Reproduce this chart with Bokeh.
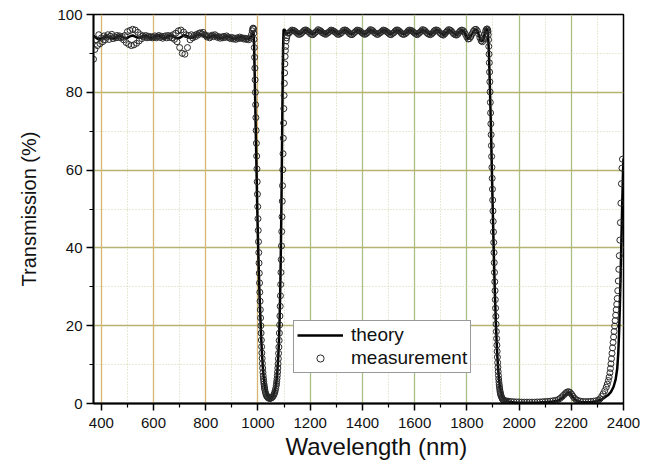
from bokeh.plotting import figure
from bokeh.models import FixedTicker, Legend, LegendItem, Grid, Title
from bokeh.embed import file_html
from bokeh.resources import INLINE

# ---------------- data ----------------
x_major = [400, 600, 800, 1000, 1200, 1400, 1600, 1800, 2000, 2200, 2400]
x_minor = [500, 700, 900, 1100, 1300, 1500, 1700, 1900, 2100, 2300]
y_major = [0, 20, 40, 60, 80, 100]
y_minor = [10, 30, 50, 70, 90]

# theory curve
theory_wl = [370, 380, 390, 400, 410, 420, 430, 440, 450, 460, 470, 480, 490, 500, 510, 520, 530, 540, 550, 560,
             570, 580, 590, 600, 610, 620, 630, 640, 650, 660, 670, 680, 690, 700, 710, 720, 730, 740, 750, 760,
             770, 780, 790, 800, 810, 820, 830, 840, 850, 860, 870, 880, 890, 900, 910, 920, 930, 940, 950, 960,
             970, 975, 980,
             983, 985, 987, 989, 991, 993, 995, 997, 999, 1001, 1003, 1005, 1007, 1009, 1011, 1013, 1015, 1018,
             1021, 1024, 1027, 1031, 1036, 1041, 1046, 1051, 1056, 1061, 1065, 1069, 1072, 1075, 1078, 1080, 1082,
             1084, 1086, 1088, 1090, 1092, 1094, 1096, 1098, 1101, 1105, 1110,
             1120, 1130, 1140, 1150, 1160, 1170, 1180, 1190, 1200, 1210, 1220, 1230, 1240, 1250, 1260, 1270, 1280,
             1290, 1300, 1310, 1320, 1330, 1340, 1350, 1360, 1370, 1380, 1390, 1400, 1410, 1420, 1430, 1440, 1450,
             1460, 1470, 1480, 1490, 1500, 1510, 1520, 1530, 1540, 1550, 1560, 1570, 1580, 1590, 1600, 1610, 1620,
             1630, 1640, 1650, 1660, 1670, 1680, 1690, 1700, 1710, 1720, 1730, 1740, 1750, 1760, 1770, 1780, 1790,
             1800, 1805, 1810, 1820, 1830, 1838, 1845, 1852, 1858, 1864, 1869, 1874, 1878,
             1881, 1884, 1887, 1890, 1893, 1896, 1899, 1902, 1905, 1908, 1911, 1914, 1917, 1920, 1923, 1926, 1929,
             1933, 1938, 1944, 1950, 1960, 1975, 1990, 2010, 2030, 2050, 2070, 2090, 2110, 2130, 2145, 2155, 2165,
             2175, 2183, 2190, 2197, 2205, 2213, 2222, 2235, 2250, 2265, 2280, 2295, 2310, 2325, 2340, 2352, 2362,
             2370, 2376, 2380, 2383, 2386, 2389, 2392, 2395, 2398, 2400]
theory_val = [94.5, 94.0, 93.6, 93.8, 94.2, 94.4, 94.1, 93.8, 93.9, 94.3, 94.5, 94.2, 93.9, 94.0, 94.4, 94.6, 94.3, 94.0, 94.1, 94.4,
              94.6, 94.3, 94.0, 94.1, 94.5, 94.6, 94.2, 93.9, 94.1, 94.5, 94.6, 94.2, 93.9, 94.0, 94.4, 94.7, 94.4, 94.0, 94.1, 94.5,
              94.8, 94.9, 94.6, 94.3, 94.1, 94.3, 94.6, 94.5, 94.1, 93.9, 94.1, 94.4, 94.3, 93.9, 93.7, 93.9, 94.2, 94.1, 93.8, 93.7,
              94.0, 94.6, 95.3,
              95.4, 92.5, 86.0, 79.0, 72.0, 65.0, 58.0, 51.0, 45.0, 39.5, 34.5, 30.0, 26.0, 22.5, 19.0, 16.0, 13.3, 10.0,
              7.4, 5.5, 4.1, 2.9, 2.0, 1.5, 1.3, 1.4, 1.8, 2.5, 3.4, 4.8, 6.5, 9.0, 12.5, 15.5, 19.5,
              25.0, 32.0, 41.0, 52.0, 65.0, 79.0, 91.0, 96.0, 96.2, 95.5, 95.0,
              95.4, 96.0, 95.8, 95.2, 94.9, 95.4, 96.0, 95.8, 95.2, 94.9, 95.4, 96.0, 95.8, 95.2, 94.9, 95.4, 96.0,
              95.8, 95.2, 94.9, 95.4, 96.0, 95.8, 95.2, 94.9, 95.4, 96.0, 95.8, 95.2, 94.9, 95.4, 96.0, 95.8, 95.2,
              94.9, 95.4, 96.0, 95.8, 95.2, 94.9, 95.4, 96.0, 95.8, 95.2, 94.9, 95.4, 96.0, 95.8, 95.2, 94.9, 95.4,
              96.0, 95.8, 95.2, 94.8, 95.3, 96.0, 95.9, 95.2, 94.7, 95.2, 96.0, 95.8, 95.1, 94.7, 95.4, 96.0, 95.5,
              94.2, 93.7, 93.9, 95.0, 96.1, 96.0, 94.9, 93.4, 93.0, 93.8, 95.3, 96.3, 96.2,
              94.8, 91.0, 84.5, 77.0, 68.5, 59.5, 50.5, 42.0, 34.0, 27.0, 21.0, 16.0, 12.0, 8.8, 6.4, 4.6, 3.4,
              2.3, 1.5, 0.9, 0.6, 0.4, 0.3, 0.2, 0.2, 0.2, 0.2, 0.2, 0.3, 0.4, 0.5, 0.7, 0.9, 1.4,
              2.0, 2.6, 2.9, 2.6, 1.8, 1.1, 0.7, 0.4, 0.3, 0.3, 0.4, 0.6, 0.9, 1.4, 2.1, 3.0, 4.3,
              6.2, 9.0, 13.0, 18.0, 25.0, 33.0, 42.0, 51.0, 59.0, 63.0]

# measurement: first pass band (370 - 980 nm)
meas_band1_wl = [370, 375, 380, 385, 390, 395, 400, 405, 410, 415, 420, 425, 430, 435, 440, 445, 450, 455, 460, 465,
                 470, 475, 480, 485, 490, 495, 500, 505, 510, 515, 520, 525, 530, 535, 540, 545, 550, 555, 560, 565,
                 570, 575, 580, 585, 590, 595, 600, 605, 610, 615, 620, 625, 630, 635, 640, 645, 650, 655, 660, 665,
                 670, 675, 680, 685, 690, 695, 700, 705, 710, 715, 720, 725, 730, 735, 740, 745, 750, 755, 760, 765,
                 770, 775, 780, 785, 790, 795, 800, 805, 810, 815, 820, 825, 830, 835, 840, 845, 850, 855, 860, 865,
                 870, 875, 880, 885, 890, 895, 900, 905, 910, 915, 920, 925, 930, 935, 940, 945, 950, 955, 960, 965,
                 970, 975, 978, 980]
meas_band1_val = [88.5, 91.0, 93.5, 92.0, 94.8, 92.5, 94.0, 93.0, 94.5, 93.5, 94.2, 94.8, 93.6, 94.4, 94.9, 93.8, 94.3, 94.0, 94.6, 94.1,
                  94.5, 94.0, 94.3, 93.5, 94.6, 92.8, 95.6, 92.3, 95.9, 92.0, 96.2, 92.2, 96.0, 92.6, 95.4, 93.2, 94.8, 93.8, 94.5, 94.2,
                  94.6, 94.0, 94.4, 94.1, 94.3, 94.0, 94.2, 94.5, 94.0, 94.3, 94.6, 94.1, 94.4, 93.9, 94.3, 94.5, 94.0, 94.6, 94.1, 94.5,
                  94.0, 94.8, 93.6, 95.2, 93.0, 95.8, 91.5, 96.0, 90.0, 95.5, 89.8, 94.8, 91.5, 94.6, 93.5, 94.8, 94.0, 94.6, 94.3, 94.9,
                  94.7, 95.2, 95.3, 95.0, 95.4, 94.8, 94.6, 94.2, 94.5, 94.0, 94.4, 94.7, 94.3, 94.8, 94.5, 94.1, 94.3, 93.9, 94.2, 94.0,
                  94.4, 94.1, 94.5, 94.2, 94.0, 93.8, 94.1, 93.7, 93.9, 93.6, 94.0, 93.8, 94.2, 93.9, 94.0, 93.7, 93.9, 93.6, 93.8, 93.5,
                  94.0, 94.8, 95.8, 96.4]

# measurement: first stop band (982 - 1115 nm)
meas_dip1_wl = [982, 983, 984, 985, 986, 987, 988, 989, 990, 991, 992, 993, 994, 995, 996, 997, 998, 999, 1000, 1001,
                1002, 1003, 1004, 1005, 1006, 1007, 1008, 1009, 1010, 1011, 1012, 1013, 1014, 1015, 1016, 1017, 1018,
                1019, 1020, 1021, 1022, 1023, 1024, 1025, 1026, 1028, 1030, 1032, 1034, 1036, 1038, 1041, 1044, 1047,
                1050, 1053, 1056, 1059, 1062, 1064, 1066, 1068, 1070, 1071, 1072, 1073, 1074, 1075, 1076, 1077, 1078,
                1079, 1080, 1081, 1082, 1083, 1084, 1085, 1086, 1087, 1088, 1089, 1090, 1091, 1092, 1093, 1094, 1095,
                1096, 1097, 1098, 1099, 1100, 1101, 1102, 1103, 1104, 1105, 1106, 1108, 1110, 1112, 1115]
meas_dip1_val = [96.5, 96.2, 95.2, 93.6, 91.5, 89.0, 86.2, 83.2, 80.0, 76.8, 73.5, 70.2, 66.9, 63.6, 60.3, 57.0, 53.8, 50.6, 47.5, 44.5,
                 41.6, 38.8, 36.1, 33.5, 31.0, 28.6, 26.3, 24.1, 22.0, 20.0, 18.1, 16.3, 14.6, 13.0, 11.6, 10.3, 9.1,
                 8.0, 7.1, 6.3, 5.6, 5.0, 4.5, 4.0, 3.6, 3.0, 2.5, 2.1, 1.9, 1.7, 1.5, 1.4, 1.3, 1.3,
                 1.4, 1.5, 1.7, 2.0, 2.4, 2.8, 3.3, 3.9, 4.6, 5.1, 5.7, 6.4, 7.2, 8.1, 9.1, 10.2, 11.5,
                 12.9, 14.5, 16.2, 18.1, 20.2, 22.5, 25.0, 27.7, 30.6, 33.7, 37.0, 40.5, 44.2, 48.0, 52.0, 56.0, 60.1,
                 64.2, 68.2, 72.1, 75.8, 79.2, 82.3, 85.0, 87.3, 89.2, 90.7, 91.8, 93.2, 94.0, 94.6, 95.2]

# measurement: second pass band (1120 - 1878 nm)
meas_band2_wl = [1120, 1125, 1130, 1135, 1140, 1145, 1150, 1155, 1160, 1165,
                 1170, 1175, 1180, 1185, 1190, 1195, 1200, 1205, 1210, 1215,
                 1220, 1225, 1230, 1235, 1240, 1245, 1250, 1255, 1260, 1265,
                 1270, 1275, 1280, 1285, 1290, 1295, 1300, 1305, 1310, 1315,
                 1320, 1325, 1330, 1335, 1340, 1345, 1350, 1355, 1360, 1365,
                 1370, 1375, 1380, 1385, 1390, 1395, 1400, 1405, 1410, 1415,
                 1420, 1425, 1430, 1435, 1440, 1445, 1450, 1455, 1460, 1465,
                 1470, 1475, 1480, 1485, 1490, 1495, 1500, 1505, 1510, 1515,
                 1520, 1525, 1530, 1535, 1540, 1545, 1550, 1555, 1560, 1565,
                 1570, 1575, 1580, 1585, 1590, 1595, 1600, 1605, 1610, 1615,
                 1620, 1625, 1630, 1635, 1640, 1645, 1650, 1655, 1660, 1665,
                 1670, 1675, 1680, 1685, 1690, 1695, 1700, 1705, 1710, 1715,
                 1720, 1725, 1730, 1735, 1740, 1745, 1750, 1755,
                 1760, 1765, 1770, 1775, 1780, 1785, 1790, 1795, 1800, 1805, 1810, 1815, 1820, 1825, 1830, 1835,
                 1840, 1845, 1850, 1855, 1860, 1865, 1869, 1872, 1875, 1878]
meas_band2_val = [95.3, 95.7, 96.0, 95.9, 95.8, 95.5, 95.2, 94.9, 94.9, 95.1,
                  95.4, 95.8, 96.0, 96.0, 95.7, 95.5, 95.1, 94.9, 94.8, 95.1,
                  95.4, 95.7, 96.1, 95.9, 95.8, 95.4, 95.2, 95.0, 94.9, 95.2,
                  95.4, 95.7, 96.0, 95.9, 95.7, 95.5, 95.2, 94.9, 94.9, 95.1,
                  95.3, 95.8, 96.0, 96.0, 95.8, 95.5, 95.1, 94.9, 94.8, 95.1,
                  95.4, 95.7, 96.0, 95.9, 95.8, 95.5, 95.2, 95.0, 94.9, 95.1,
                  95.4, 95.7, 96.1, 96.0, 95.8, 95.4, 95.2, 94.9, 94.9, 95.2,
                  95.4, 95.7, 96.0, 95.9, 95.7, 95.5, 95.2, 94.9, 94.8, 95.1,
                  95.3, 95.7, 96.0, 96.0, 95.8, 95.5, 95.1, 94.9, 94.9, 95.1,
                  95.4, 95.8, 96.0, 95.9, 95.8, 95.5, 95.2, 95.0, 94.8, 95.1,
                  95.4, 95.7, 96.1, 96.0, 95.8, 95.4, 95.1, 94.9, 94.8, 95.0,
                  95.3, 95.8, 96.0, 96.0, 95.8, 95.4, 95.1, 94.8, 94.7, 95.0,
                  95.4, 95.8, 96.1, 96.0, 95.8, 95.4, 95.0, 94.8,
                  94.7, 94.9, 95.4, 95.8, 96.0, 95.9, 95.5, 94.9, 94.2, 93.7, 93.8, 94.3, 95.0, 95.7, 96.1, 96.2,
                  95.8, 95.0, 94.0, 93.2, 93.0, 93.7, 94.9, 95.8, 96.2, 96.3]

# measurement: second edge and stop band (1880 - 2396 nm)
meas_dip2_wl = [1880, 1881, 1882, 1883, 1884, 1885, 1886, 1887, 1888, 1889, 1890, 1891, 1892, 1893, 1894, 1895, 1896,
                1897, 1898, 1899, 1900, 1901, 1902, 1903, 1904, 1905, 1906, 1907, 1908, 1909, 1910, 1911, 1912, 1913,
                1914, 1915, 1916, 1917, 1918, 1919, 1920, 1921, 1922, 1923, 1924, 1925, 1926, 1927, 1928, 1929, 1930,
                1932, 1934, 1936, 1938, 1940, 1943, 1946, 1950, 1955, 1960, 1970, 1980, 1990, 2000, 2010, 2020, 2030,
                2040, 2050, 2060, 2070, 2080, 2090, 2100, 2110, 2120, 2130, 2140, 2150, 2157, 2164, 2170, 2176, 2181,
                2186, 2191, 2196, 2201, 2206, 2212, 2218, 2225, 2235, 2245, 2255, 2265, 2275, 2285, 2295, 2305,
                2310, 2316, 2322, 2328, 2334, 2338, 2342, 2345, 2348, 2350, 2352, 2354, 2356, 2358, 2360, 2362, 2364,
                2366, 2368, 2370, 2372, 2374, 2376, 2378, 2380, 2382, 2384, 2386, 2388, 2390, 2392, 2394, 2396]
meas_dip2_val = [96.0, 95.6, 94.8, 93.5, 91.8, 89.8, 87.6, 85.2, 82.7, 80.1, 77.4, 74.7, 71.9, 69.1, 66.3, 63.5, 60.7,
                 57.9, 55.1, 52.3, 49.5, 46.8, 44.1, 41.4, 38.8, 36.2, 33.7, 31.3, 29.0, 26.7, 24.5, 22.4, 20.4, 18.5,
                 16.7, 15.0, 13.4, 11.9, 10.5, 9.3, 8.2, 7.2, 6.3, 5.5, 4.8, 4.2, 3.7, 3.2, 2.8, 2.5, 2.2,
                 1.8, 1.5, 1.2, 1.0, 0.9, 0.8, 0.7, 0.6, 0.6, 0.55, 0.5, 0.45, 0.4, 0.4, 0.35, 0.35, 0.35,
                 0.35, 0.35, 0.35, 0.4, 0.4, 0.45, 0.5, 0.55, 0.6, 0.7, 0.8, 1.0, 1.3, 1.7, 2.1, 2.5, 2.8,
                 3.0, 3.0, 2.8, 2.4, 1.9, 1.4, 1.0, 0.8, 0.6, 0.5, 0.5, 0.5, 0.55, 0.6, 0.7, 0.9,
                 1.2, 1.8, 2.5, 3.3, 4.2, 5.0, 5.9, 6.8, 7.9, 9.0, 10.2, 11.5, 12.9, 14.3, 15.7, 17.1, 18.5,
                 19.9, 21.3, 22.7, 24.1, 25.5, 27.0, 29.0, 31.5, 34.5, 38.0, 42.0, 46.5, 51.5, 56.5, 60.5, 62.8]

meas_wl = meas_band1_wl + meas_dip1_wl + meas_band2_wl + meas_dip2_wl
meas_val = meas_band1_val + meas_dip1_val + meas_band2_val + meas_dip2_val

# ---------------- figure ----------------
FONT = "Liberation Sans"
p = figure(width=648, height=464, x_range=(370, 2400), y_range=(0, 100),
           output_backend="svg", toolbar_location=None,
           min_border_left=93, min_border_right=25, min_border_top=14, min_border_bottom=61)
p.background_fill_color = "white"
p.border_fill_color = "white"
p.outline_line_color = "black"
p.outline_line_width = 1.5

xt = FixedTicker(ticks=x_major, minor_ticks=x_minor)
yt = FixedTicker(ticks=y_major, minor_ticks=y_minor)
p.xaxis.ticker = xt
p.yaxis.ticker = yt

# grids
p.xgrid.ticker = FixedTicker(ticks=[1200, 1400, 1600, 1800, 2000, 2200], minor_ticks=x_minor)
p.xgrid.grid_line_color = "#a9bf84"
p.xgrid.grid_line_width = 1.3
p.xgrid.minor_grid_line_color = "#d2d4a8"
p.xgrid.minor_grid_line_dash = "1 2"
p.xgrid.minor_grid_line_width = 1
g_orange = Grid(dimension=0, ticker=FixedTicker(ticks=[400, 600, 800, 1000]),
                grid_line_color="#d6b670", grid_line_width=1.3)
p.add_layout(g_orange)
p.ygrid.ticker = yt
p.ygrid.grid_line_color = "#b6b272"
p.ygrid.grid_line_width = 1.3
p.ygrid.minor_grid_line_color = "#d2d4a8"
p.ygrid.minor_grid_line_dash = "1 2"
p.ygrid.minor_grid_line_width = 1

# axes
for ax in (p.xaxis[0], p.yaxis[0]):
    ax.axis_line_color = "black"
    ax.axis_line_width = 1.8
    ax.major_tick_line_color = "black"
    ax.major_tick_line_width = 1.5
    ax.minor_tick_line_color = "black"
    ax.minor_tick_line_width = 1.2
    ax.major_tick_in = 0
    ax.major_tick_out = 7
    ax.minor_tick_in = 0
    ax.minor_tick_out = 4
    ax.major_label_text_font = FONT
    ax.major_label_text_font_size = "15px"
    ax.major_label_text_color = "#111111"
    ax.axis_label_text_font = FONT
    ax.axis_label_text_font_style = "normal"
    ax.axis_label_text_color = "#111111"

p.xaxis.major_label_standoff = 7
p.yaxis.major_label_standoff = 4
p.yaxis.axis_label = "Transmission (%)"
p.yaxis.axis_label_text_font_size = "20px"
p.yaxis.axis_label_standoff = 14

xtitle = Title(text="Wavelength (nm)", align="left", offset=192, standoff=0,
               text_font=FONT, text_font_size="24px", text_font_style="normal",
               text_color="#111111")
p.add_layout(xtitle, "below")

# data renderers
r_theory = p.line(theory_wl, theory_val, line_color="black", line_width=2.5)
r_meas = p.scatter(meas_wl, meas_val, marker="circle", size=6, line_color="#2a2a2a",
                   line_width=1, fill_color=None)

legend = Legend(items=[LegendItem(label="theory", renderers=[r_theory]),
                       LegendItem(label="measurement", renderers=[r_meas])],
                location=(200, 30))
legend.border_line_color = "#333333"
legend.border_line_width = 1
legend.background_fill_color = "white"
legend.background_fill_alpha = 1
legend.padding = 3
legend.spacing = 1
legend.margin = 0
legend.glyph_width = 46
legend.glyph_height = 18
legend.label_height = 18
legend.label_standoff = 8
legend.label_text_font = FONT
legend.label_text_font_size = "19px"
legend.label_text_color = "#111111"
p.add_layout(legend)

open("out.html", "w").write(file_html(p, INLINE))
